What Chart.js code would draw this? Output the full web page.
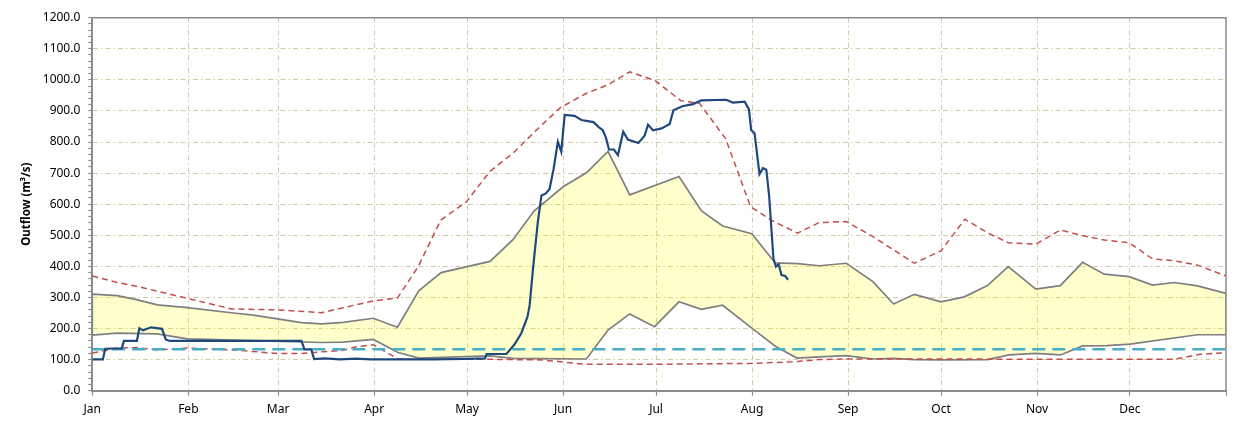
<!DOCTYPE html>
<html>
<head>
<meta charset="utf-8">
<title>Outflow</title>
<script src="https://cdn.jsdelivr.net/npm/chart.js@4.4.1/dist/chart.umd.min.js"></script>
<style>
  html, body { margin: 0; padding: 0; background: #fff; }
  #wrap { width: 1233px; height: 421px; }
</style>
</head>
<body>
<div id="wrap"><canvas id="outflowChart" width="1233" height="421"></canvas></div>
<script>
// x axis is day of year (leap year), ticks at month starts
const monthLabels = ['Jan', 'Feb', 'Mar', 'Apr', 'May', 'Jun', 'Jul', 'Aug', 'Sep', 'Oct', 'Nov', 'Dec'];
const monthStarts = [0, 31, 60, 91, 121, 152, 182, 213, 244, 274, 305, 335];
const yearEnd = 366;
const yMax = 1200;

// upper edge of the yellow band
const upperDays = [0, 8, 14.3, 21, 30.7, 45.5, 52, 67.5, 74, 81, 90.7, 98.5, 105.4, 112.6, 128.4, 135.8, 142.6, 152, 159.5, 166.5, 173.5, 189.4, 196.6, 203.5, 212.9, 220.5, 227.7, 234.7, 243.4, 252, 258.7, 265.4, 274, 281.5, 289, 295.7, 304.6, 312.5, 319.7, 326.7, 334.7, 342.3, 349.3, 356.8, 366];
const upperVals = [311, 306, 293, 276, 267, 250, 243, 219, 215, 220, 233, 204, 321, 380, 416, 486, 578, 656, 701, 770, 630, 689, 579, 530, 505, 411, 409, 402, 410, 351, 279, 310, 286, 302, 338, 399, 327, 338, 413, 375, 367, 340, 348, 337, 313];

// lower edge of the yellow band
const lowerDays = [0, 8, 21, 30.7, 52, 74, 81, 90.7, 98.7, 105.5, 128.4, 135.8, 159.5, 166.5, 173.5, 181.5, 189.4, 196.6, 203.5, 212.7, 220.5, 227.5, 234.7, 243.4, 252, 258.7, 265.4, 274, 289, 296, 304.6, 312.6, 319.7, 327.5, 335, 356.8, 366];
const lowerVals = [179, 185, 183, 167, 161, 155, 156, 165, 123, 105, 112, 104, 102, 195, 247, 206, 286, 262, 275, 203, 143, 105, 109, 113, 102, 104, 100, 99, 100, 115, 120, 115, 144, 145, 150, 180, 180];

// red dashed envelopes
const redHighDays = [0, 8, 14.3, 30.7, 45, 59.7, 74, 90.7, 98.5, 105.2, 112.5, 120.8, 128.3, 135.8, 142.8, 151, 159.5, 166.5, 173.5, 181.8, 190, 196, 204.5, 212.5, 219.5, 227.7, 234.7, 243.4, 252, 258.7, 265.4, 274, 281.7, 289, 295.7, 304.6, 312.5, 319.7, 326.7, 334.7, 342.3, 349.3, 356.8, 366];
const redHighVals = [369, 348, 336, 297, 263, 260, 251, 289, 298, 399, 549, 608, 705, 764, 833, 910, 957, 984, 1026, 997, 933, 925, 810, 592, 547, 507, 541, 544, 496, 453, 410, 450, 552, 508, 476, 471, 517, 499, 485, 476, 424, 418, 404, 369];

const redLowDays = [0, 8, 14.3, 20.8, 30.7, 45.5, 59.7, 67.5, 74, 81, 84.6, 90.7, 98.5, 105.4, 128.4, 145, 151.4, 159, 183, 213, 226, 234.7, 243.4, 349.3, 357.5, 366];
const redLowVals = [121, 137, 139, 131, 137, 131, 120, 120, 125, 130, 140, 148, 103, 101, 101, 99, 93, 85, 85, 88, 93, 100, 102, 101, 117, 122];

// minimum flow target
const targetFlow = 133;

// observed outflow
const obsDays = [0, 3.4, 4.2, 9.5, 10.2, 14.4, 15.2, 16.4, 19, 22.5, 23.7, 25, 67.5, 68.5, 70.7, 71.6, 75, 80, 85, 90, 100, 110, 120, 126.8, 127.3, 133.7, 136.4, 138.5, 140.5, 141.2, 142.3, 143.8, 145, 146.3, 147.6, 148.9, 150.3, 151.4, 152.5, 155.7, 157.9, 161.8, 163.5, 164.8, 165.8, 166.8, 168.4, 169.7, 171.4, 172.9, 176.3, 178.3, 179.4, 181, 183.8, 186.4, 187.6, 190.5, 193.9, 196.6, 204.6, 206.8, 210.6, 212, 212.7, 213.8, 215.4, 216.5, 217.6, 218.5, 219.9, 220.7, 221.6, 222.5, 223.7, 224.6];
const obsVals = [101, 101, 135, 136, 160, 160, 201, 194, 204, 199, 165, 160, 160, 133, 133, 102, 104, 101, 103, 101, 101, 101, 102, 104, 118, 118, 150, 185, 238, 275, 395, 540, 628, 634, 648, 712, 801, 769, 887, 884, 871, 864, 848, 838, 815, 776, 776, 758, 833, 808, 797, 820, 856, 838, 844, 858, 902, 915, 922, 934, 936, 927, 930, 905, 839, 828, 697, 716, 711, 628, 425, 399, 406, 372, 369, 357];

const gridColor = '#D2CAA2';
const axisColor = '#8C8C8C';
const tickFont = { family: 'Noto Sans', size: 12 };

function pts(days, vals) {
    return days.map((d, i) => ({ x: d, y: vals[i] }));
}

// band drawn as one closed shape: upper edge forward, lower edge back
const bandUpper = pts(upperDays, upperVals);
const bandShape = bandUpper.concat(pts(lowerDays, lowerVals).reverse(), [bandUpper[0]]);

const framePlugin = {
    id: 'frame',
    afterDraw(chart) {
        const { ctx, chartArea: a } = chart;
        ctx.save();
        ctx.strokeStyle = axisColor;
        ctx.lineWidth = 1.5;
        ctx.beginPath();
        ctx.moveTo(a.left, a.top);
        ctx.lineTo(a.right, a.top);
        ctx.lineTo(a.right, a.bottom);
        ctx.stroke();
        ctx.restore();
    }
};

const ctx = document.getElementById('outflowChart').getContext('2d');

new Chart(ctx, {
    type: 'line',
    data: {
        datasets: [
            {
                label: 'Outflow',
                data: pts(obsDays, obsVals),
                borderColor: '#1F497D',
                borderWidth: 2.2,
                pointRadius: 0,
                fill: false
            },
            {
                label: 'Target',
                data: [{ x: 0, y: targetFlow }, { x: yearEnd, y: targetFlow }],
                borderColor: '#4BACC6',
                borderWidth: 2.5,
                borderDash: [13, 7],
                pointRadius: 0,
                fill: false
            },
            {
                label: 'Max',
                data: pts(redHighDays, redHighVals),
                borderColor: '#C0504D',
                borderWidth: 1.5,
                borderDash: [6, 4],
                pointRadius: 0,
                fill: false
            },
            {
                label: 'Min',
                data: pts(redLowDays, redLowVals),
                borderColor: '#C0504D',
                borderWidth: 1.5,
                borderDash: [6, 4],
                pointRadius: 0,
                fill: false
            },
            {
                label: 'Range',
                data: bandShape,
                borderColor: '#7F7F7F',
                borderWidth: 1.7,
                backgroundColor: 'rgba(255, 255, 0, 0.2)',
                pointRadius: 0,
                fill: 'shape'
            }
        ]
    },
    options: {
        responsive: false,
        animation: false,
        devicePixelRatio: 1,
        layout: { padding: { left: 0, right: 6, top: 17.7, bottom: 0 } },
        elements: { line: { tension: 0 } },
        scales: {
            x: {
                type: 'linear',
                min: 0,
                max: yearEnd,
                afterBuildTicks: s => { s.ticks = monthStarts.concat([yearEnd]).map(v => ({ value: v })); },
                afterFit: s => { s.height = 30.3; },
                ticks: {
                    autoSkip: false,
                    maxRotation: 0,
                    padding: 7,
                    color: '#000',
                    font: tickFont,
                    callback: (v, i) => monthLabels[i] || ''
                },
                grid: {
                    color: c => (c.tick && c.tick.value > 0 && c.tick.value < yearEnd) ? gridColor : 'transparent',
                    lineWidth: 1,
                    tickLength: 5,
                    tickColor: axisColor,
                    tickWidth: 1.2,
                    tickBorderDash: []
                },
                border: { color: axisColor, width: 2, dash: [5, 3, 1.5, 3] }
            },
            y: {
                min: 0,
                max: yMax,
                afterBuildTicks: s => {
                    const t = [];
                    for (let v = 0; v <= yMax; v += 20) t.push({ value: v });
                    s.ticks = t;
                },
                afterFit: s => { s.width = 92.3; },
                ticks: {
                    autoSkip: false,
                    padding: 8,
                    color: '#000',
                    font: tickFont,
                    callback: v => (v % 100 === 0 ? v.toFixed(1) : '')
                },
                grid: {
                    color: c => (c.tick && c.tick.value % 100 === 0 && c.tick.value > 0 && c.tick.value < yMax) ? gridColor : 'transparent',
                    lineWidth: 1,
                    tickLength: 4,
                    tickColor: axisColor,
                    tickWidth: 1.2,
                    tickBorderDash: []
                },
                border: { color: axisColor, width: 2, dash: [5, 3, 1.5, 3] },
                title: {
                    display: true,
                    text: 'Outflow (m³/s)',
                    color: '#000',
                    font: { family: 'Noto Sans', size: 11.5, weight: 'bold' },
                    padding: { top: 20, bottom: 0 }
                }
            }
        },
        plugins: {
            legend: { display: false },
            tooltip: { enabled: false }
        }
    },
    plugins: [framePlugin]
});
</script>
</body>
</html>
